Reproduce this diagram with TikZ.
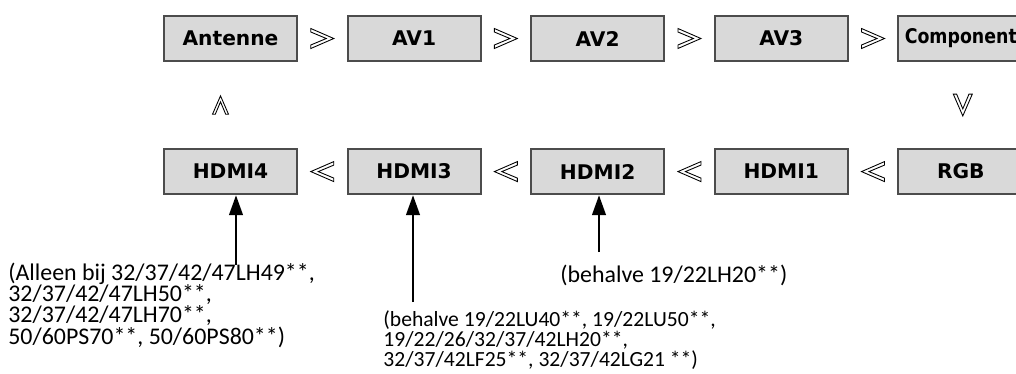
\documentclass[tikz,border=0pt]{standalone}
\usepackage{fontspec}
\setmainfont{Carlito}
\newfontfamily\boxfont{DejaVu Sans}
\usetikzlibrary{positioning,calc,arrows.meta}

\tikzset{
  srcbox/.style={draw=black!70, line width=1.2pt, fill=black!15,
    minimum width=2.66cm, minimum height=0.9cm, inner sep=0pt,
    font=\boxfont\bfseries\fontsize{11.5}{12}\selectfont},
  note/.style={anchor=north west, inner sep=0pt, align=left,
    font=\fontsize{13.6}{12}\selectfont},
  arr/.style={line width=1.5pt, -{Triangle[length=0.4cm,width=0.27cm]}},
  chev/.pic={\draw[line width=0.5pt] (-11.5,-10) -- (11.5,0) -- (-11.5,10)
    -- (-11.5,6.5) -- (4,0) -- (-11.5,-6.5) -- cycle;}
}

\begin{document}
\begin{tikzpicture}[x=0.02cm, y=-0.02cm]
    \useasboundingbox (0,0) rectangle (1016,373);

    % upper row
    \node[srcbox] (ant) at (230.5,38.5) {Antenne};
    \node[srcbox, right=0.97cm of ant] (av1) {AV1};
    \node[srcbox, right=0.97cm of av1] (av2) {AV2};
    \node[srcbox, right=0.97cm of av2] (av3) {AV3};
    \node[srcbox, minimum width=2.5cm, right=0.97cm of av3] (comp) {\scalebox{0.86}[1]{Component}};

    % lower row
    \node[srcbox, below=1.72cm of ant] (hdmi4) {HDMI4};
    \node[srcbox, right=0.97cm of hdmi4] (hdmi3) {HDMI3};
    \node[srcbox, right=0.97cm of hdmi3] (hdmi2) {HDMI2};
    \node[srcbox, right=0.97cm of hdmi2] (hdmi1) {HDMI1};
    \node[srcbox, minimum width=2.5cm, right=0.97cm of hdmi1] (rgb) {RGB};

    % order marks
    \foreach \a/\b in {ant/av1, av1/av2, av2/av3, av3/comp}
        \pic at ($(\a.east)!.5!(\b.west)$) {chev};
    \foreach \a/\b in {hdmi4/hdmi3, hdmi3/hdmi2, hdmi2/hdmi1, hdmi1/rgb}
        \pic[rotate=180] at ($(\a.east)!.5!(\b.west)$) {chev};
    \pic[rotate=-90, scale=0.95] at ($(comp.south)!.5!(rgb.north)+(2,0)$) {chev};
    \pic[rotate=90, scale=0.8] at ($(ant.south)!.5!(hdmi4.north)+(-10,0)$) {chev};

    % notes
    \node[note] (lab4) at (8,263) {(Alleen bij 32/37/42/47LH49**,\\32/37/42/47LH50**,\\32/37/42/47LH70**,\\50/60PS70**, 50/60PS80**)};
    \node[note, font=\fontsize{12.3}{10.3}\selectfont] (lab3) at (383,310) {(behalve 19/22LU40**, 19/22LU50**,\\19/22/26/32/37/42LH20**,\\32/37/42LF25**, 32/37/42LG21 **)};
    \node[note] (lab2) at (560,265) {(behalve 19/22LH20**)};

    \coordinate (t4) at (236,265);
    \coordinate (t3) at (413,302);
    \coordinate (t2) at (599,252);
    \draw[arr] (t4) -- (t4 |- hdmi4.south);
    \draw[arr] (t3) -- (t3 |- hdmi3.south);
    \draw[arr] (t2) -- (t2 |- hdmi2.south);
\end{tikzpicture}
\end{document}
